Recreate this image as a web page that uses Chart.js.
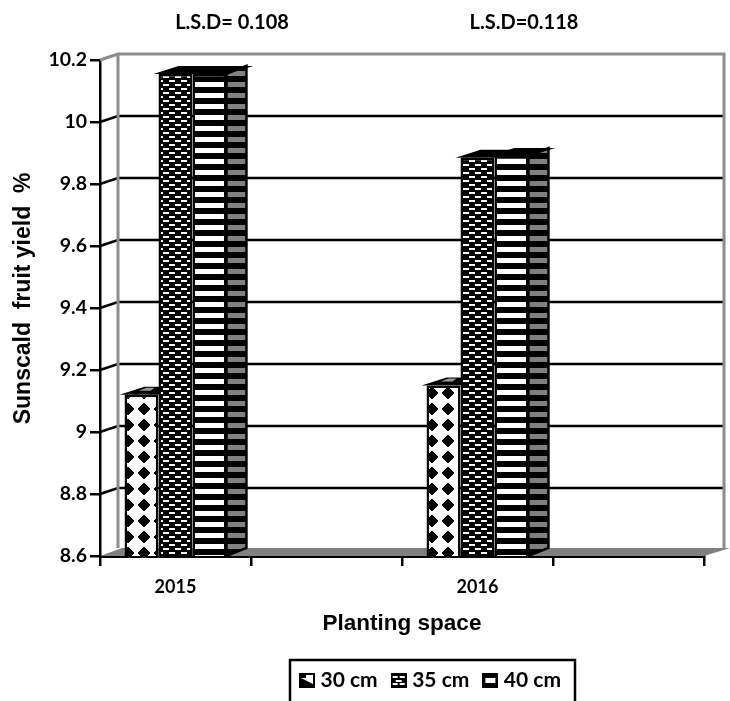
<!DOCTYPE html>
<html><head><meta charset="utf-8">
<style>html,body{margin:0;padding:0;background:#fff;overflow:hidden}canvas{display:block}</style>
<script src="https://cdn.jsdelivr.net/npm/chart.js@4"></script>
</head><body><canvas id="c" width="730" height="701" style="width:730px;height:701px"></canvas>
<script>
const categories = ['2015', '', '2016', ''];
const seriesNames = ['30 cm', '35 cm', '40 cm'];
const values30 = [9.12, null, 9.15, null];
const values35 = [10.155, null, 9.885, null];
const values40 = [10.155, null, 9.89, null];
const yTickValues = [8.6, 8.8, 9, 9.2, 9.4, 9.6, 9.8, 10, 10.2];
const yTickLabels = ['8.6', '8.8', '9', '9.2', '9.4', '9.6', '9.8', '10', '10.2'];
const lsdLabels = ['L.S.D= 0.108', 'L.S.D=0.118'];

function tile(w, h, draw) {
  const t = document.createElement('canvas'); t.width = w; t.height = h;
  draw(t.getContext('2d')); return t;
}
const ctxMain = document.getElementById('c').getContext('2d');

const diamondTile = tile(16, 16, g => {
  g.fillStyle = '#fff'; g.fillRect(0, 0, 16, 16); g.fillStyle = '#000';
  for (let y = 0; y < 16; y++) for (let x = 0; x < 16; x++)
    if (Math.abs(x - 7.5) + Math.abs(y - 7.5) <= 6) g.fillRect(x, y, 1, 1);
});
const diamondPat = ctxMain.createPattern(diamondTile, 'repeat');
diamondPat.setTransform(new DOMMatrix().translate(-8, 1));

const dashTile = tile(12, 8, g => {
  g.fillStyle = '#000'; g.fillRect(0, 0, 12, 8); g.fillStyle = '#fff';
  g.fillRect(1, 0, 6, 2); g.fillRect(7, 4, 6, 2); g.fillRect(0, 4, 1, 2);
});
const dashPat = ctxMain.createPattern(dashTile, 'repeat');
const stripe = c => tile(2, 11, g => {
  g.fillStyle = '#000'; g.fillRect(0, 0, 2, 11); g.fillStyle = c; g.fillRect(0, 5, 2, 5);
});
const whiteStripe = ctxMain.createPattern(stripe('#fff'), 'repeat');
const grayStripe = ctxMain.createPattern(stripe('#808080'), 'repeat');

const swatches = [
  tile(16, 15, g => { g.fillStyle = '#000'; g.fillRect(0, 0, 16, 15); g.fillStyle = '#fff';
    g.beginPath(); g.moveTo(2, 5); g.lineTo(5, 2); g.lineTo(14, 2); g.lineTo(14, 11); g.closePath(); g.fill();
    g.fillStyle='#000'; g.fillRect(2,2,5,3); }),
  tile(16, 15, g => { g.fillStyle = '#000'; g.fillRect(0, 0, 16, 15); g.fillStyle = '#fff';
    g.fillRect(2, 3, 5, 2); g.fillRect(9, 3, 5, 2); g.fillRect(5, 7, 6, 2); g.fillRect(2, 10, 5, 2); g.fillRect(9, 10, 5, 2); }),
  tile(16, 15, g => { g.fillStyle = '#000'; g.fillRect(0, 0, 16, 15); g.fillStyle = '#fff'; g.fillRect(3, 5, 10, 5); })
];

const DX = 18, DY = 6, WALL = '#8c8c8c';
const depthPlugin = {
  id: 'depth',
  beforeDatasetsDraw(chart) {
    const { ctx, chartArea: a, scales: { y } } = chart;
    const L = a.left, R = a.right, T = a.top, B = a.bottom;
    ctx.save();
    ctx.strokeStyle = '#000'; ctx.lineWidth = 2.5;
    yTickValues.forEach(v => {
      if (v === yTickValues[0] || v === yTickValues[yTickValues.length - 1]) return;
      const p = y.getPixelForValue(v);
      ctx.beginPath(); ctx.moveTo(L, p); ctx.lineTo(L + DX, p - DY); ctx.lineTo(R + 20, p - DY); ctx.stroke();
    });
    ctx.strokeStyle = WALL; ctx.lineWidth = 3;
    ctx.beginPath();
    ctx.moveTo(L, T); ctx.lineTo(L + DX, T - DY); ctx.lineTo(R + 20, T - DY); ctx.lineTo(R + 20, B - 8);
    ctx.moveTo(L + DX, T - DY); ctx.lineTo(L + DX, B - 8);
    ctx.stroke();
    ctx.fillStyle = '#808080';
    ctx.beginPath(); ctx.moveTo(L, B); ctx.lineTo(L + 22, B - 8); ctx.lineTo(R + 26, B - 8); ctx.lineTo(R, B); ctx.closePath(); ctx.fill();
    chart.data.datasets.forEach((ds, i) => {
      chart.getDatasetMeta(i).data.forEach((el, j) => {
        if (ds.data[j] === null) return;
        const x0 = el.x - el.width / 2, x1 = el.x + el.width / 2, t = el.y, b = B;
        if (i === 2) {
          ctx.fillStyle = grayStripe;
          ctx.beginPath(); ctx.moveTo(x1, t); ctx.lineTo(x1 + 20, t - 8); ctx.lineTo(x1 + 20, b - 8); ctx.lineTo(x1, b); ctx.closePath(); ctx.fill();
          ctx.strokeStyle = '#000'; ctx.lineWidth = 2.5; ctx.stroke();
        }
        ctx.fillStyle = '#000';
        ctx.beginPath(); ctx.moveTo(x0 - 5, t); ctx.lineTo(x0 + 20, t - 8); ctx.lineTo(x1 + 27, t - 8); ctx.lineTo(x1, t); ctx.closePath(); ctx.fill();
        if (i === 0) {
          ctx.fillStyle = '#9a9a9a';
          ctx.beginPath(); ctx.moveTo(x0 + 14, t - 4); ctx.lineTo(x0 + 22, t - 7); ctx.lineTo(x0 + 30, t - 7); ctx.lineTo(x0 + 26, t - 4); ctx.closePath(); ctx.fill();
        }
      });
    });
    ctx.restore();
  },
  afterLayout(chart) {
    const l = chart.legend;
    const h = l.height;
    l.left = 239; l.right = 626; l.width = 387; l.top = 652; l.bottom = 652 + h;
  },
  afterDraw(chart) {
    const { ctx } = chart;
    ctx.save();
    ctx.strokeStyle = '#000'; ctx.lineWidth = 2.5;
    ctx.strokeRect(290, 660, 285, 70);
    ctx.fillStyle = '#000'; ctx.font = 'bold 20px Lato'; ctx.textAlign = 'center'; ctx.textBaseline = 'middle';
    ctx.fillText(lsdLabels[0], 232, 23);
    ctx.fillText(lsdLabels[1], 524, 23);
    ctx.restore();
  }
};

const barBase = { borderColor: '#000', borderWidth: 2.5, borderSkipped: false, categoryPercentage: 0.675, barPercentage: 1 };
new Chart(ctxMain, {
  type: 'bar',
  plugins: [depthPlugin],
  data: {
    labels: categories,
    datasets: [
      { label: seriesNames[0], data: values30, backgroundColor: diamondPat, ...barBase },
      { label: seriesNames[1], data: values35, backgroundColor: dashPat, ...barBase },
      { label: seriesNames[2], data: values40, backgroundColor: whiteStripe, ...barBase }
    ]
  },
  options: {
    responsive: false, animation: false, devicePixelRatio: 1,
    layout: { padding: { top: 60, right: 26, left: 0, bottom: 0 } },
    plugins: {
      tooltip: { enabled: false },
      legend: {
        position: 'bottom',
        labels: {
          usePointStyle: true, boxWidth: 6, boxHeight: 6, padding: 18, color: '#000',
          font: { family: 'Lato', weight: 'bold', size: 21 },
          generateLabels: () => seriesNames.map((n, i) => ({ text: n, pointStyle: swatches[i], datasetIndex: i, fontColor: '#000', lineWidth: 0 }))
        }
      }
    },
    scales: {
      x: {
        offset: true,
        grid: { offset: true, drawOnChartArea: false, color: '#000', lineWidth: 2.5, tickLength: 10 },
        border: { display: true, color: '#000', width: 3 },
        ticks: { color: '#000', autoSkip: false, maxRotation: 0, padding: 10, font: { family: 'Lato', weight: 'bold', size: 18 } },
        title: { display: true, text: 'Planting space', color: '#000', padding: { top: 0, bottom: 15 }, font: { family: 'Liberation Sans', weight: 'bold', size: 22.5 } },
        afterFit(s) { s.height = 145 - s.chart.legend.height; }
      },
      y: {
        min: 8.6, max: 10.2,
        afterBuildTicks(s) { s.ticks = yTickValues.map(v => ({ value: v })); },
        grid: { drawOnChartArea: false, color: '#000', lineWidth: 2.5, tickLength: 10 },
        border: { display: true, color: '#000', width: 2.5 },
        ticks: { color: '#000', padding: 3, callback: (v) => yTickLabels[yTickValues.indexOf(+(+v).toFixed(1))], font: { family: 'Lato', weight: 'bold', size: 19.5 } },
        title: { display: true, text: '   Sunscald  fruit yield  %', color: '#000', padding: { top: 10, bottom: 0 }, font: { family: 'Liberation Sans', weight: 'bold', size: 23 } },
        afterFit(s) { s.width = 100; }
      }
    }
  }
});
</script></body></html>
